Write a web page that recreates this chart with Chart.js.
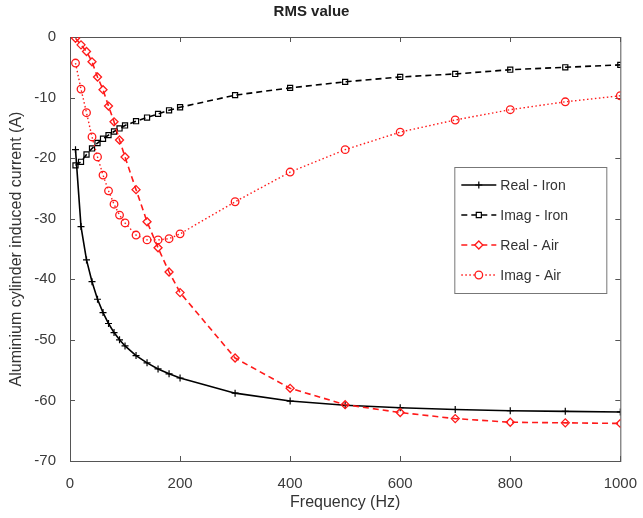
<!DOCTYPE html>
<html>
<head>
<meta charset="utf-8">
<title>RMS value</title>
<script src="https://cdn.jsdelivr.net/npm/chart.js@4.4.1/dist/chart.umd.min.js"></script>
<style>
  html, body { margin: 0; padding: 0; background: #fff; }
  #wrap { width: 643px; height: 518px; }
</style>
</head>
<body>
<div id="wrap"><canvas id="chart" width="643" height="518"></canvas></div>
<script>
// frequency sweep (Hz)
const freq = [10, 20, 30, 40, 50, 60, 70, 80, 90, 100, 120, 140, 160, 180, 200,
              300, 400, 500, 600, 700, 800, 900, 1000];

// induced current (A), real / imaginary parts, with and without the iron core
const realIron = [-18.6, -31.3, -36.8, -40.4, -43.3, -45.5, -47.3, -48.8, -50.0, -51.0,
                  -52.6, -53.8, -54.8, -55.6, -56.3, -58.8, -60.1, -60.8, -61.2, -61.5, -61.7, -61.8, -61.9];
const imagIron = [-21.2, -20.6, -19.4, -18.4, -17.5, -16.8, -16.2, -15.6, -15.1, -14.6,
                  -13.9, -13.3, -12.7, -12.1, -11.6, -9.6, -8.4, -7.4, -6.6, -6.1, -5.4, -5.0, -4.6];
const realAir  = [-0.2, -1.3, -2.4, -4.1, -6.6, -8.7, -11.4, -14.0, -17.0, -19.8,
                  -25.2, -30.5, -34.8, -38.8, -42.2, -53.0, -58.0, -60.7, -62.0, -63.0, -63.6, -63.7, -63.8];
const imagAir  = [-4.3, -8.6, -12.5, -16.5, -19.8, -22.8, -25.4, -27.6, -29.4, -30.7,
                  -32.7, -33.5, -33.5, -33.3, -32.5, -27.2, -22.3, -18.6, -15.7, -13.7, -12.0, -10.7, -9.7];

const seriesNames = ['Real - Iron', 'Imag - Iron', 'Real - Air', 'Imag - Air'];
const xTicks = [0, 200, 400, 600, 800, 1000];
const yTicks = [0, -10, -20, -30, -40, -50, -60, -70];

const FONT = "'Liberation Sans', Arial, sans-serif";
const RED = '#ff1a1a';

const pts = vals => freq.map((f, i) => ({ x: f, y: vals[i] }));

const datasets = [
  { label: seriesNames[0], data: pts(realIron), borderColor: '#000', borderWidth: 1.6,
    pointStyle: 'cross', pointRadius: 3.5, pointBorderWidth: 1.2, pointBorderColor: '#000',
    pointBackgroundColor: 'rgba(0,0,0,0)', order: 4 },
  { label: seriesNames[1], data: pts(imagIron), borderColor: '#000', borderWidth: 1.6, borderDash: [6, 4],
    pointStyle: 'rect', pointRadius: 3.6, pointBorderWidth: 1.2, pointBorderColor: '#000',
    pointBackgroundColor: 'rgba(0,0,0,0)', order: 3 },
  { label: seriesNames[2], data: pts(realAir), borderColor: RED, borderWidth: 1.6, borderDash: [6, 4],
    pointStyle: 'rectRot', pointRadius: 4, pointBorderWidth: 1.3, pointBorderColor: RED,
    pointBackgroundColor: 'rgba(0,0,0,0)', order: 2 },
  { label: seriesNames[3], data: pts(imagAir), borderColor: RED, borderWidth: 1.4, borderDash: [1.5, 2.5],
    pointStyle: 'circle', pointRadius: 3.8, pointBorderWidth: 1.3, pointBorderColor: RED,
    pointBackgroundColor: 'rgba(0,0,0,0)', order: 1 }
];

// box around the axes with inward tick marks on all four sides
const axisBox = {
  id: 'axisBox',
  beforeDatasetsDraw(chart) {
    const { ctx, chartArea: a, scales } = chart;
    ctx.save();
    ctx.strokeStyle = '#555';
    ctx.lineWidth = 1;
    ctx.strokeRect(a.left + 0.5, a.top + 0.5, a.right - a.left, a.bottom - a.top);
    ctx.beginPath();
    xTicks.forEach(v => {
      const x = Math.round(scales.x.getPixelForValue(v)) + 0.5;
      ctx.moveTo(x, a.bottom); ctx.lineTo(x, a.bottom - 5);
      ctx.moveTo(x, a.top); ctx.lineTo(x, a.top + 5);
    });
    yTicks.forEach(v => {
      const y = Math.round(scales.y.getPixelForValue(v)) + 0.5;
      ctx.moveTo(a.left, y); ctx.lineTo(a.left + 5, y);
      ctx.moveTo(a.right, y); ctx.lineTo(a.right - 5, y);
    });
    ctx.stroke();
    ctx.restore();
  }
};

// legend drawn inside the plot, on the right
const boxLegend = {
  id: 'boxLegend',
  afterDraw(chart) {
    const { ctx, chartArea: a } = chart;
    const w = 152, rowH = 30;
    const left = a.right - 14 - w, top = 167;
    ctx.save();
    ctx.fillStyle = '#fff';
    ctx.fillRect(left, top, w, rowH * 4 + 6);
    ctx.strokeStyle = '#777';
    ctx.lineWidth = 1;
    ctx.strokeRect(left + 0.5, top + 0.5, w, rowH * 4 + 6);
    ctx.font = '14px ' + FONT;
    ctx.textBaseline = 'middle';
    datasets.forEach((ds, i) => {
      const y = top + 3 + rowH * i + rowH / 2;
      const x0 = left + 7, x1 = left + 42;
      ctx.strokeStyle = ds.borderColor;
      ctx.lineWidth = ds.borderWidth;
      ctx.setLineDash(ds.borderDash || []);
      ctx.beginPath();
      ctx.moveTo(x0, y); ctx.lineTo(x1, y);
      ctx.stroke();
      ctx.setLineDash([]);
      ctx.lineWidth = ds.pointBorderWidth;
      ctx.fillStyle = '#fff';
      Chart.helpers.drawPoint(ctx, {
        pointStyle: ds.pointStyle, radius: ds.pointRadius, rotation: 0, borderWidth: ds.pointBorderWidth
      }, (x0 + x1) / 2, y);
      ctx.fillStyle = '#333';
      ctx.fillText(ds.label, x1 + 4, y + 1);
    });
    ctx.restore();
  }
};

new Chart(document.getElementById('chart'), {
  type: 'line',
  data: { datasets },
  options: {
    responsive: false,
    animation: false,
    devicePixelRatio: 1,
    layout: { padding: { right: 20 } },
    elements: { line: { tension: 0, fill: false } },
    plugins: {
      legend: { display: false },
      tooltip: { enabled: false },
      title: {
        display: true,
        text: 'RMS value',
        color: '#222',
        font: { family: FONT, size: 15, weight: 'bold' },
        padding: { top: 3, bottom: 16 }
      }
    },
    scales: {
      x: {
        type: 'linear',
        min: 0, max: 1000,
        grid: { display: false },
        border: { display: false },
        afterBuildTicks: s => { s.ticks = xTicks.map(v => ({ value: v })); },
        afterFit: s => { s.height = 57; },
        ticks: { color: '#3a3a3a', font: { family: FONT, size: 15 }, padding: 6, maxRotation: 0,
                 callback: v => String(v) },
        title: { display: true, text: 'Frequency (Hz)', color: '#333',
                 font: { family: FONT, size: 16 }, padding: { top: 0, bottom: 6 } }
      },
      y: {
        type: 'linear',
        min: -70, max: 0,
        grid: { display: false },
        border: { display: false },
        afterBuildTicks: s => { s.ticks = yTicks.map(v => ({ value: v })); },
        afterFit: s => { s.width = 70; },
        ticks: { color: '#3a3a3a', font: { family: FONT, size: 15 }, padding: 6,
                 callback: v => String(v) },
        title: { display: true, text: 'Aluminium cylinder induced current (A)', color: '#333',
                 font: { family: FONT, size: 16 }, padding: { top: 7, bottom: 0 } }
      }
    }
  },
  plugins: [axisBox, boxLegend]
});
</script>
</body>
</html>
